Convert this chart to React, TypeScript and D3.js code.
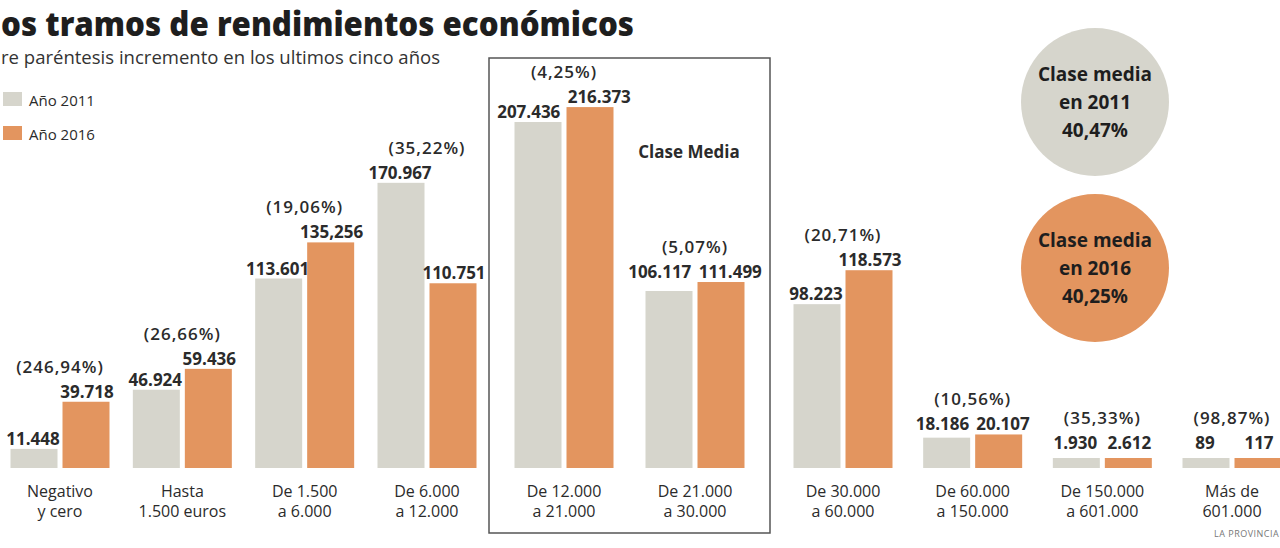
import React from "react";
import * as d3 from "d3";

const catLine1 = ["Negativo", "Hasta", "De 1.500", "De 6.000", "De 12.000", "De 21.000", "De 30.000", "De 60.000", "De 150.000", "Más de"];
const catLine2 = ["y cero", "1.500 euros", "a 6.000", "a 12.000", "a 21.000", "a 30.000", "a 60.000", "a 150.000", "a 601.000", "601.000"];
const values2011 = [11448, 46924, 113601, 170967, 207436, 106117, 98223, 18186, 1930, 89];
const values2016 = [39718, 59436, 135256, 110751, 216373, 111499, 118573, 20107, 2612, 117];
const labels2011 = ["11.448", "46.924", "113.601", "170.967", "207.436", "106.117", "98.223", "18.186", "1.930", "89"];
const labels2016 = ["39.718", "59.436", "135,256", "110.751", "216.373", "111.499", "118.573", "20.107", "2.612", "117"];
const pctLabels = ["(246,94%)", "(26,66%)", "(19,06%)", "(35,22%)", "(4,25%)", "(5,07%)", "(20,71%)", "(10,56%)", "(35,33%)", "(98,87%)"];
const legendLabels = ["Año 2011", "Año 2016"];
const circleLines2011 = ["Clase media", "en 2011", "40,47%"];
const circleLines2016 = ["Clase media", "en 2016", "40,25%"];
const titleText = "os tramos de rendimientos económicos";
const subtitleText = "re paréntesis incremento en los ultimos cinco años";

const W = 1280;
const H = 548;
const GRAY = "#d6d5cc";
const ORANGE = "#e3955f";
const TEXT = "#2b2b2b";
const FONT = "'Open Sans', 'DejaVu Sans', sans-serif";

export default function App() {
  // piecewise group layout: four groups, the two "Clase Media" groups in the box, four groups after
  const cx = d3.scaleLinear().domain([0, 3, 4, 5, 6, 9]).range([60, 427, 564, 695, 843, 1232]);
  const baseY = 468;
  const y = d3.scaleLinear().domain([0, 250000]).range([baseY, baseY - 417]);
  const barW = 47;
  const inner = 2.5;
  const minH = 10;
  const top = (v: number) => Math.min(y(v), baseY - minH);
  const estW = (s: string) => s.replace(/[.,]/g, "").length * 10 + (s.match(/[.,]/g) || []).length * 4.5;

  const boxLeft = cx(4) - 75;
  const boxRight = cx(5) + 75;

  return (
    <svg width={W} height={H} style={{ position: "absolute", left: 0, top: 0, display: "block", background: "#fff" }} fontFamily={FONT}>
      <rect x={0} y={0} width={W} height={H} fill="#fff" />
      {/* Title */}
      <text x={1} y={36} fontSize={33.5} fontWeight={800} fill="#1e1e1e" textLength={633} lengthAdjust="spacingAndGlyphs">{titleText}</text>
      <text x={1} y={64} fontSize={19} fill="#333" textLength={439} lengthAdjust="spacingAndGlyphs">{subtitleText}</text>

      {/* Legend */}
      {[GRAY, ORANGE].map((c, k) => (
        <g key={k}>
          <rect x={3} y={92 + k * 34} width={19} height={14} fill={c} />
          <text x={29} y={106 + k * 34} fontSize={15} fontWeight={500} fill={TEXT}>{legendLabels[k]}</text>
        </g>
      ))}

      {/* Clase Media box */}
      <rect x={boxLeft} y={58} width={boxRight - boxLeft} height={475} fill="none" stroke="#555" strokeWidth={1.5} />
      <text x={cx(5) - 6} y={158} fontSize={17} fontWeight={700} fill={TEXT} textAnchor="middle">Clase Media</text>

      {/* Bars */}
      {values2011.map((v, i) => {
        const c = cx(i);
        const t1 = top(v);
        const t2 = top(values2016[i]);
        let l1 = t1 - 4;
        let l2 = t2 - 4;
        if (Math.abs(l1 - l2) < 12) {
          const m = Math.min(l1, l2) - (baseY - Math.min(t1, t2) < 20 ? 5 : 0);
          l1 = m;
          l2 = m;
        }
        let off = 27;
        if (Math.abs(l1 - l2) < 18) {
          off = Math.max(off, ((estW(labels2011[i]) + estW(labels2016[i])) / 2 + 6) / 2);
        }
        const pY = Math.min(l1, l2) - 25;
        return (
          <g key={i}>
            <rect x={c - inner - barW} y={t1} width={barW} height={baseY - t1} fill={GRAY} />
            <rect x={c + inner} y={t2} width={barW} height={baseY - t2} fill={ORANGE} />
            <text x={c - off} y={l1} fontSize={17} fontWeight={700} fill={TEXT} textAnchor="middle">{labels2011[i]}</text>
            <text x={c + off} y={l2} fontSize={17} fontWeight={700} fill={TEXT} textAnchor="middle">{labels2016[i]}</text>
            <text x={c} y={pY} fontSize={17} fontWeight={600} fill={TEXT} textAnchor="middle" letterSpacing={1}>{pctLabels[i]}</text>
            <text x={c} y={497} fontSize={16} fill={TEXT} textAnchor="middle">{catLine1[i]}</text>
            <text x={c} y={517} fontSize={16} fill={TEXT} textAnchor="middle">{catLine2[i]}</text>
          </g>
        );
      })}

      {/* Circles */}
      {[{ cyy: 102, fill: GRAY, lines: circleLines2011 }, { cyy: 268, fill: ORANGE, lines: circleLines2016 }].map((c, k) => (
        <g key={k}>
          <circle cx={1095} cy={c.cyy} r={74} fill={c.fill} />
          {c.lines.map((ln, j) => (
            <text key={j} x={1095} y={c.cyy - 21 + j * 28} fontSize={19} fontWeight={700} fill="#1e1e1e" textAnchor="middle">{ln}</text>
          ))}
        </g>
      ))}

      <text x={1214} y={537} fontSize={9} fill="#777" letterSpacing={0.5}>LA PROVINCIA</text>
    </svg>
  );
}
